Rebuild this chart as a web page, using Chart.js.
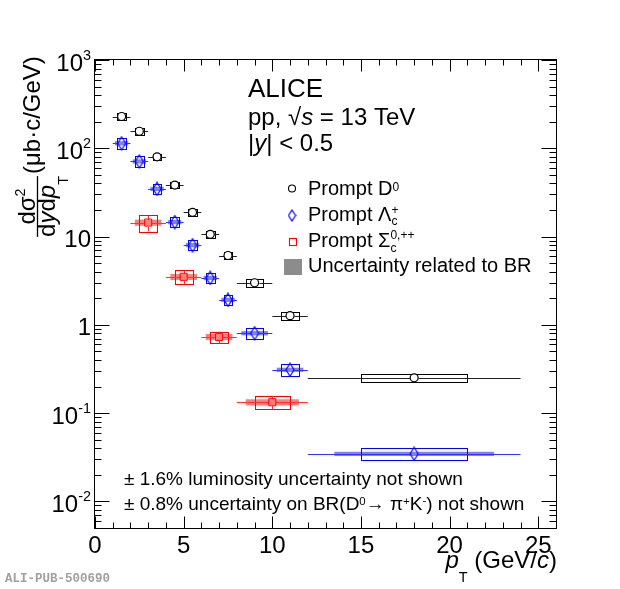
<!DOCTYPE html>
<html lang="en">
<head>
    <meta charset="UTF-8">
    <title>ALICE - prompt charm hadron cross sections, pp 13 TeV</title>
    <script src="https://cdn.jsdelivr.net/npm/chart.js"></script>
    <style>
        body { margin: 0; background: #fff; }
        .janela { width: 620px; height: 589px; position: relative; }
    </style>
</head>
<body>
<div class="janela">
    <canvas id="grafico-secao-choque"></canvas>
</div>

<script>
    // ---- dados ----
    // D0 prompt
    const binsD0 = [1, 2, 3, 4, 5, 6, 7, 8, 10, 12, 24];
    const ptD0 = [1.5, 2.5, 3.5, 4.5, 5.5, 6.5, 7.5, 9, 11, 18];
    const valD0 = [229, 156, 80, 38.3, 18.8, 10.6, 6.1, 3.0, 1.27, 0.251];
    const estD0 = [0.02, 0.02, 0.02, 0.02, 0.03, 0.03, 0.03, 0.04, 0.05, 0.06];
    const sisD0 = [0.09, 0.09, 0.085, 0.085, 0.085, 0.09, 0.09, 0.095, 0.1, 0.11];

    // Lambda_c+ prompt
    const binsLc = [1, 2, 3, 4, 5, 6, 7, 8, 10, 12, 24];
    const ptLc = [1.5, 2.5, 3.5, 4.5, 5.5, 6.5, 7.5, 9, 11, 18];
    const valLc = [114, 71, 34.7, 14.6, 8.0, 3.4, 1.92, 0.805, 0.31, 0.0346];
    const estLc = [0.06, 0.05, 0.05, 0.05, 0.05, 0.06, 0.07, 0.07, 0.09, 0.12];
    const sisLc = [0.15, 0.14, 0.13, 0.13, 0.13, 0.13, 0.13, 0.14, 0.15, 0.15];
    const brLc = 0.055;

    // Sigma_c 0,++ prompt
    const binsSc = [2, 4, 6, 8, 12];
    const ptSc = [3, 5, 7, 10];
    const valSc = [14.4, 3.5, 0.73, 0.133];
    const estSc = [0.2, 0.17, 0.15, 0.17];
    const sisSc = [0.21, 0.18, 0.15, 0.17];
    const brSc = 0.08;

    // eixos
    const xTicks = [0, 5, 10, 15, 20, 25];
    const yTicks = [0.01, 0.1, 1, 10, 100, 1000];
    const yTickLabels = [['10', '-2'], ['10', '-1'], ['1', ''], ['10', ''], ['10', '2'], ['10', '3']];

    const FONTE = '"Liberation Sans", Arial, Helvetica, sans-serif';

    function criarLosango(w, h, cor) {
        const c = document.createElement('canvas');
        c.width = w + 2;
        c.height = h + 2;
        const g = c.getContext('2d');
        g.strokeStyle = cor;
        g.lineWidth = 1.2;
        g.beginPath();
        g.moveTo(c.width / 2, 1);
        g.lineTo(c.width - 1, c.height / 2);
        g.lineTo(c.width / 2, c.height - 1);
        g.lineTo(1, c.height / 2);
        g.closePath();
        g.stroke();
        return c;
    }
    const losango = criarLosango(8, 13, '#0000ff');
    const losangoLegenda = criarLosango(7, 11, '#0000ff');

    const series = [
        { bins: binsD0, pt: ptD0, val: valD0, est: estD0, sis: sisD0, br: 0, cor: '#000', corLinha: '#222', corBanda: null, gx: 4, gy: 4 },
        { bins: binsLc, pt: ptLc, val: valLc, est: estLc, sis: sisLc, br: brLc, cor: '#0000ff', corLinha: '#3333ff', corBanda: 'rgba(0,0,255,0.5)', gx: 4, gy: 6.5 },
        { bins: binsSc, pt: ptSc, val: valSc, est: estSc, sis: sisSc, br: brSc, cor: '#ff0000', corLinha: '#ff3333', corBanda: 'rgba(255,0,0,0.5)', gx: 3.5, gy: 3.5 }
    ];

    // escreve texto com partes em italico, sobrescrito e subscrito
    function escreverTexto(ctx, x, y, partes, tam, desenhar = true) {
        let cx = x, inicioAnterior = x, largAnterior = 0;
        partes.forEach(p => {
            if (typeof p === 'string') p = { t: p };
            const t = (p.sup || p.sub) ? tam * 0.6 : tam;
            ctx.font = (p.it ? 'italic ' : '') + t + 'px ' + FONTE;
            const w = ctx.measureText(p.t).width;
            const px = p.junto ? inicioAnterior : cx;
            let dy = 0;
            if (p.sup) dy = -tam * (p.sobe !== undefined ? p.sobe : 0.35);
            if (p.sub) dy = tam * (p.desce !== undefined ? p.desce : 0.22);
            if (desenhar) ctx.fillText(p.t, px, y + dy);
            if (p.junto) {
                cx = px + Math.max(w, largAnterior);
            } else {
                inicioAnterior = px;
                largAnterior = w;
                cx = px + w;
            }
        });
        return cx - x;
    }

    function linha(ctx, x1, y1, x2, y2) {
        ctx.beginPath();
        ctx.moveTo(x1, y1);
        ctx.lineTo(x2, y2);
        ctx.stroke();
    }

    const incertezasPlugin = {
        id: 'incertezas',
        beforeDatasetsDraw(chart) {
            const ctx = chart.ctx, sx = chart.scales.x, sy = chart.scales.y, a = chart.chartArea;
            ctx.save();
            ctx.beginPath();
            ctx.rect(a.left, a.top, a.right - a.left, a.bottom - a.top);
            ctx.clip();
            ctx.lineWidth = 1;
            series.forEach(s => {
                for (let i = 0; i < s.pt.length; i++) {
                    const meia = (s.bins[i + 1] - s.bins[i]) / 2;
                    const xc = Math.round(sx.getPixelForValue(s.pt[i])) + 0.5;
                    const yc = Math.round(sy.getPixelForValue(s.val[i])) + 0.5;

                    // incerteza do BR (banda preenchida)
                    if (s.br) {
                        const x1 = sx.getPixelForValue(s.pt[i] - 0.75 * meia);
                        const x2 = sx.getPixelForValue(s.pt[i] + 0.75 * meia);
                        const y1 = sy.getPixelForValue(s.val[i] * (1 + s.br));
                        const y2 = sy.getPixelForValue(s.val[i] * (1 - s.br));
                        ctx.fillStyle = s.corBanda;
                        ctx.fillRect(x1, y1, x2 - x1, y2 - y1);
                    }

                    // sistematica (caixa vazia)
                    const bx1 = Math.round(sx.getPixelForValue(s.pt[i] - 0.5 * meia)) + 0.5;
                    const bx2 = Math.round(sx.getPixelForValue(s.pt[i] + 0.5 * meia)) + 0.5;
                    const by1 = Math.round(sy.getPixelForValue(s.val[i] * (1 + s.sis[i]))) + 0.5;
                    const by2 = Math.round(sy.getPixelForValue(s.val[i] * (1 - s.sis[i]))) + 0.5;
                    ctx.strokeStyle = s.cor;
                    ctx.strokeRect(bx1, by1, bx2 - bx1, by2 - by1);

                    // estatistica
                    ctx.strokeStyle = s.corLinha;
                    const xl = sx.getPixelForValue(s.bins[i]);
                    const xr = sx.getPixelForValue(s.bins[i + 1]);
                    linha(ctx, xl, yc, xc - s.gx, yc);
                    linha(ctx, xc + s.gx, yc, xr, yc);
                    const yt = sy.getPixelForValue(s.val[i] * (1 + s.est[i]));
                    const yb = sy.getPixelForValue(s.val[i] * (1 - s.est[i]));
                    if (yc - yt > s.gy) linha(ctx, xc, yt, xc, yc - s.gy);
                    if (yb - yc > s.gy) linha(ctx, xc, yc + s.gy, xc, yb);
                }
            });
            ctx.restore();
        }
    };

    const moldura = {
        id: 'moldura',
        afterDraw(chart) {
            const ctx = chart.ctx, sx = chart.scales.x, sy = chart.scales.y, a = chart.chartArea;
            ctx.save();
            ctx.strokeStyle = '#000';
            ctx.lineWidth = 1;
            const L = Math.round(a.left) - 0.5, R = Math.round(a.right) + 0.5;
            const T = Math.round(a.top) - 0.5, B = Math.round(a.bottom) + 0.5;
            ctx.strokeRect(L, T, R - L, B - T);

            // ticks do eixo y (log)
            for (let d = -3; d <= 3; d++) {
                for (let m = 1; m <= 9; m++) {
                    const v = m * Math.pow(10, d);
                    if (v < sy.min * 0.999 || v > sy.max * 1.001) continue;
                    const py = Math.round(sy.getPixelForValue(v)) + 0.5;
                    const comp = m === 1 ? 15 : 7;
                    linha(ctx, L, py, L + comp, py);
                    linha(ctx, R, py, R - comp, py);
                }
            }
            // ticks do eixo x
            for (let v = 0; v <= 26; v++) {
                const px = Math.round(sx.getPixelForValue(v)) + 0.5;
                const comp = v % 5 === 0 ? 12 : 6;
                linha(ctx, px, B, px, B - comp);
                linha(ctx, px, T, px, T + comp);
            }

            // rotulos do eixo y
            ctx.fillStyle = '#000';
            ctx.textBaseline = 'alphabetic';
            yTicks.forEach((v, i) => {
                const py = sy.getPixelForValue(v);
                const partes = [yTickLabels[i][0]];
                if (yTickLabels[i][1]) partes.push({ t: yTickLabels[i][1], sup: true, sobe: 0.44 });
                const w = escreverTexto(ctx, 0, 0, partes, 24, false);
                escreverTexto(ctx, 91 - w, py + 10.5, partes, 24);
            });

            // titulo do eixo x
            const tituloX = [{ t: 'p', it: true }, { t: 'T', sub: true, desce: 0.6 }, ' (GeV/', { t: 'c', it: true }, ')'];
            const wx = escreverTexto(ctx, 0, 0, tituloX, 24, false);
            escreverTexto(ctx, 557 - wx, 568, tituloX, 24);

            // titulo do eixo y (rotacionado)
            const numerador = ['d\u03c3', { t: '2', sup: true, sobe: 0.42 }];
            const wn = escreverTexto(ctx, 0, 0, numerador, 24, false);
            ctx.save();
            ctx.translate(35, 206.5 + wn / 2);
            ctx.rotate(-Math.PI / 2);
            escreverTexto(ctx, 0, 0, numerador, 24);
            ctx.restore();

            const denominador = ['d', { t: 'y', it: true }, 'd', { t: 'p', it: true }, { t: 'T', sub: true, desce: 0.55 }];
            const wd = escreverTexto(ctx, 0, 0, denominador, 24, false);
            ctx.save();
            ctx.translate(55, 206.5 + wd / 2);
            ctx.rotate(-Math.PI / 2);
            escreverTexto(ctx, 0, 0, denominador, 24);
            ctx.restore();
            ctx.lineWidth = 1.3;
            linha(ctx, 37.5, 206.5 - wd / 2, 37.5, 206.5 + wd / 2);

            ctx.save();
            ctx.translate(40, 174);
            ctx.rotate(-Math.PI / 2);
            escreverTexto(ctx, 0, 0, ['(\u03bcb\u00b7c/GeV)'], 24);
            ctx.restore();

            // textos ALICE
            escreverTexto(ctx, 248, 97, ['ALICE'], 26);
            escreverTexto(ctx, 248, 125, ['pp, \u221a', { t: 's', it: true }, ' = 13 TeV'], 24);
            escreverTexto(ctx, 248, 151, ['|', { t: 'y', it: true }, '| < 0.5'], 24);

            // legenda
            ctx.lineWidth = 1.1;
            ctx.strokeStyle = '#000';
            ctx.beginPath();
            ctx.arc(292, 188.5, 3.5, 0, Math.PI * 2);
            ctx.stroke();
            ctx.drawImage(losangoLegenda, 292 - losangoLegenda.width / 2, 215.5 - losangoLegenda.height / 2);
            ctx.strokeStyle = '#ff0000';
            ctx.strokeRect(289.5, 238.5, 7, 7);
            ctx.fillStyle = '#8c8c8c';
            ctx.fillRect(284, 259, 18, 16);

            ctx.fillStyle = '#000';
            escreverTexto(ctx, 308, 195, ['Prompt D', { t: '0', sup: true, sobe: 0.2 }], 20);
            escreverTexto(ctx, 308, 221, ['Prompt \u039b', { t: 'c', sub: true, desce: 0.2 }, { t: '+', sup: true, sobe: 0.35, junto: true }], 20);
            escreverTexto(ctx, 308, 247, ['Prompt \u03a3', { t: 'c', sub: true, desce: 0.25 }, { t: '0,++', sup: true, sobe: 0.42, junto: true }], 20);
            escreverTexto(ctx, 308, 272, ['Uncertainty related to BR'], 20);

            // notas
            escreverTexto(ctx, 124, 485, ['\u00b1 1.6% luminosity uncertainty not shown'], 19);
            escreverTexto(ctx, 124, 510, ['\u00b1 0.8% uncertainty on BR(D', { t: '0', sup: true, sobe: 0.25 }, '\u2192 \u03c0',
                { t: '+', sup: true, sobe: 0.25 }, 'K', { t: '-', sup: true, sobe: 0.3 }, ') not shown'], 19);

            // identificador
            ctx.fillStyle = '#a0a0a0';
            ctx.font = 'bold 12.5px "Liberation Mono", "DejaVu Sans Mono", monospace';
            ctx.fillText('ALI-PUB-500690', 5, 582);
            ctx.restore();
        }
    };

    const paraPontos = (xs, ys) => xs.map((x, i) => ({ x: x, y: ys[i] }));

    new Chart(document.getElementById('grafico-secao-choque'), {
        type: 'scatter',
        data: {
            datasets: [
                {
                    label: 'Prompt D0',
                    data: paraPontos(ptD0, valD0),
                    pointStyle: 'circle',
                    pointRadius: 4,
                    borderColor: '#000',
                    backgroundColor: '#fff',
                    borderWidth: 1.2
                },
                {
                    label: 'Prompt Lambda_c+',
                    data: paraPontos(ptLc, valLc),
                    pointStyle: losango,
                    pointRadius: 6,
                    borderColor: '#0000ff',
                    backgroundColor: 'rgba(0,0,0,0)'
                },
                {
                    label: 'Prompt Sigma_c',
                    data: paraPontos(ptSc, valSc),
                    pointStyle: 'rect',
                    pointRadius: 5,
                    borderColor: '#ff0000',
                    backgroundColor: 'rgba(0,0,0,0)',
                    borderWidth: 1
                }
            ]
        },
        options: {
            responsive: true,
            maintainAspectRatio: false,
            animation: false,
            layout: { padding: { top: 60, right: 64, left: 0, bottom: 0 } },
            plugins: {
                legend: { display: false },
                tooltip: { enabled: false }
            },
            scales: {
                x: {
                    type: 'linear',
                    min: 0,
                    max: 26,
                    grid: { display: false, drawTicks: false },
                    border: { display: false },
                    ticks: {
                        font: { family: FONTE, size: 24 },
                        color: '#000',
                        padding: 4,
                        maxRotation: 0,
                        autoSkip: false
                    },
                    afterBuildTicks: s => { s.ticks = xTicks.map(v => ({ value: v })); },
                    afterFit: s => { s.height = 61; }
                },
                y: {
                    type: 'logarithmic',
                    min: 0.005,
                    max: 1000,
                    grid: { display: false, drawTicks: false },
                    border: { display: false },
                    ticks: { display: false },
                    afterFit: s => { s.width = 95; }
                }
            }
        },
        plugins: [incertezasPlugin, moldura]
    });
</script>
</body>
</html>
